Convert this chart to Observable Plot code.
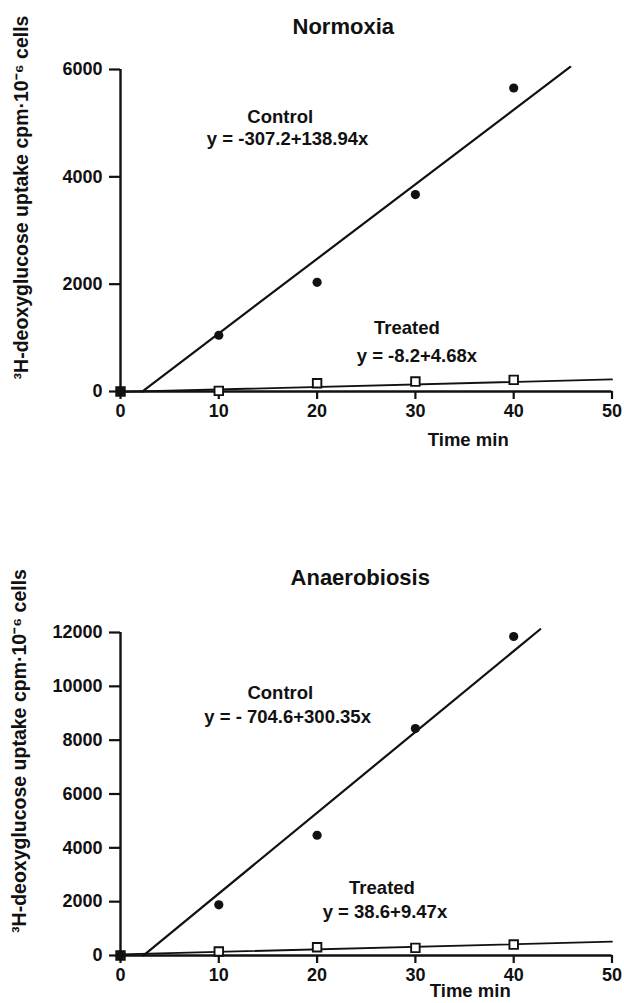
<!DOCTYPE html>
<html>
<head>
<meta charset="utf-8">
<script src="https://cdn.jsdelivr.net/npm/d3@7"></script>
<script src="https://cdn.jsdelivr.net/npm/@observablehq/plot@0.6"></script>
<style>
  html, body { margin: 0; padding: 0; background: #fff; }
  #chart svg { display: block; }
</style>
</head>
<body>
<div id="chart"></div>
<script>
// ---- data ----
const times = [0, 10, 20, 30, 40];
const xTicks = [0, 10, 20, 30, 40, 50];

const normControl = [0, 1048, 2035, 3669, 5655];
const normTreated = [0, 12, 154, 185, 216];
const normYTicks = [0, 2000, 4000, 6000];

const anaControl = [0, 1883, 4468, 8431, 11852];
const anaTreated = [0, 148, 308, 283, 406];
const anaYTicks = [0, 2000, 4000, 6000, 8000, 10000, 12000];

// fitted lines given in the chart: [intercept, slope], drawn over [xStart, xEnd]
const normControlFit = [-307.2, 138.94];
const normTreatedFit = [-8.2, 4.68];
const anaControlFit = [-704.6, 300.35];
const anaTreatedFit = [38.6, 9.47];
const normControlRange = [2.21, 45.75];
const normTreatedRange = [0, 50];
const anaControlRange = [2.35, 42.7];
const anaTreatedRange = [0, 50];

const normLabels = ["Control", "y = -307.2+138.94x", "Treated", "y = -8.2+4.68x"];
const anaLabels = ["Control", "y = - 704.6+300.35x", "Treated", "y = 38.6+9.47x"];

const yLabel = "\u00B3H-deoxyglucose uptake cpm\u00B710\u207B\u2076 cells";
const xLabel = "Time min";

function fitLine(fit, range) {
  return range.map(x => ({x, y: fit[0] + fit[1] * x}));
}

function panel(o) {
  const rows = times.map((t, i) => ({t, c: o.control[i], tr: o.treated[i]}));
  const yMax = o.yTicks[o.yTicks.length - 1];
  return Plot.plot({
    width: 624,
    height: o.height,
    marginTop: o.marginTop,
    marginBottom: o.marginBottom,
    marginLeft: 120,
    marginRight: 12.5,
    x: {domain: [0, 50]},
    y: {domain: [0, yMax]},
    style: {
      fontFamily: "'Liberation Sans', Arial, Helvetica, sans-serif",
      fontWeight: "bold",
      fontSize: "18px",
      color: "#111",
      background: "#fff"
    },
    marks: [
      Plot.axisX({ticks: xTicks, tickSize: 8, tickPadding: 5, strokeWidth: 2.2, label: null, tickFormat: d => String(d)}),
      Plot.axisY({ticks: o.yTicks, tickSize: 11, tickPadding: 7, strokeWidth: 2.2, label: null, tickFormat: d => String(d)}),
      Plot.ruleY([0], {x1: 0, x2: 50, strokeWidth: 2.4, stroke: "#111"}),
      Plot.ruleX([0], {y1: 0, y2: yMax, strokeWidth: 2.4, stroke: "#111"}),
      Plot.line(fitLine(o.controlFit, o.controlRange), {x: "x", y: "y", stroke: "#111", strokeWidth: 2.2}),
      Plot.line(fitLine(o.treatedFit, o.treatedRange), {x: "x", y: "y", stroke: "#111", strokeWidth: 1.8}),
      Plot.dot(rows, {x: "t", y: "tr", symbol: "square", r: 4.8, fill: "#fff", stroke: "#111", strokeWidth: 1.9}),
      Plot.dot(rows, {x: "t", y: "c", r: 4.6, fill: "#111"}),
      Plot.text([o.labels[0]], {x: o.labelPos[0][0], y: o.labelPos[0][1], fontSize: 18.5, lineAnchor: "middle"}),
      Plot.text([o.labels[1]], {x: o.labelPos[1][0], y: o.labelPos[1][1], fontSize: 18.5, lineAnchor: "middle"}),
      Plot.text([o.labels[2]], {x: o.labelPos[2][0], y: o.labelPos[2][1], fontSize: 18.5, lineAnchor: "middle"}),
      Plot.text([o.labels[3]], {x: o.labelPos[3][0], y: o.labelPos[3][1], fontSize: 18.5, lineAnchor: "middle"}),
      Plot.text([o.title], {frameAnchor: "top", dx: o.titleOffset[0], dy: o.titleOffset[1], fontSize: 22, lineAnchor: "middle"}),
      Plot.text([xLabel], {frameAnchor: "bottom", dx: o.xLabelOffset[0], dy: o.xLabelOffset[1], fontSize: 18.5, lineAnchor: "middle"}),
      Plot.text([yLabel], {frameAnchor: "left", rotate: -90, textAnchor: "middle", lineAnchor: "middle",
        dx: o.yLabelOffset[0], dy: o.yLabelOffset[1], fontSize: 19.5})
    ]
  });
}

const chart = document.getElementById("chart");
chart.append(panel({
  title: "Normoxia",
  height: 480, marginTop: 69, marginBottom: 89,
  control: normControl, treated: normTreated, yTicks: normYTicks,
  controlFit: normControlFit, treatedFit: normTreatedFit,
  controlRange: normControlRange, treatedRange: normTreatedRange,
  labels: normLabels,
  labelPos: [[16.25, 5120], [17.0, 4700], [29.13, 1190], [30.15, 660]],
  titleOffset: [-23, -43],
  xLabelOffset: [102, 49],
  yLabelOffset: [-99, -33]
}));
chart.append(panel({
  title: "Anaerobiosis",
  height: 523, marginTop: 152, marginBottom: 48,
  control: anaControl, treated: anaTreated, yTicks: anaYTicks,
  controlFit: anaControlFit, treatedFit: anaTreatedFit,
  controlRange: anaControlRange, treatedRange: anaTreatedRange,
  labels: anaLabels,
  labelPos: [[16.26, 9734], [17.0, 8853], [26.6, 2489], [26.9, 1610]],
  titleOffset: [-6, -55],
  xLabelOffset: [104, 36],
  yLabelOffset: [-101, -43]
}));
</script>
</body>
</html>
